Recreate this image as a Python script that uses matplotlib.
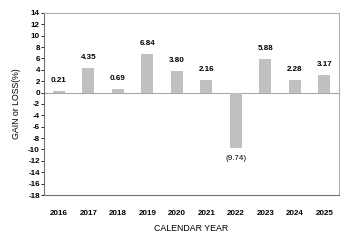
import matplotlib
matplotlib.use("Agg")
from matplotlib import pyplot as plt

years = ["2016", "2017", "2018", "2019", "2020", "2021", "2022", "2023", "2024", "2025"]
returns = [0.21, 4.35, 0.69, 6.84, 3.80, 2.16, -9.74, 5.88, 2.28, 3.17]
y_ticks = list(range(-18, 15, 2))

plt.rcParams['font.family'] = ['Liberation Sans Narrow', 'Liberation Sans', 'DejaVu Sans']

fig = plt.figure(figsize=(3.5, 2.42), dpi=100)
ax = fig.add_axes([44 / 350, 1 - 195 / 242, 295 / 350, 182 / 242])

x = range(len(years))
ax.bar(x, returns, width=0.4, color='#c0c0c0', zorder=2)
ax.axhline(0, color='#a8a8a8', lw=0.8, zorder=1)

for xi, v in zip(x, returns):
    if v >= 0:
        ax.annotate(f"{v:.2f}", (xi, v), xytext=(0, 5), textcoords='offset points',
                    ha='center', va='bottom', fontsize=5.8, fontweight='bold')
    else:
        ax.annotate(f"({abs(v):.2f})", (xi, v), xytext=(0, -5), textcoords='offset points',
                    ha='center', va='top', fontsize=5.8)

ax.set_xlim(-0.5, len(years) - 0.5)
ax.set_ylim(-18, 14)
ax.set_yticks(y_ticks)
ax.set_yticklabels([str(t) for t in y_ticks], fontsize=5.8, fontweight='bold')
ax.set_xticks(list(x))
ax.set_xticklabels(years, fontsize=5.8, fontweight='bold')
ax.tick_params(axis='y', length=2, width=0.6, pad=1)
ax.tick_params(axis='x', length=0, pad=11)

for side in ['left', 'bottom']:
    ax.spines[side].set_color('#707070')
    ax.spines[side].set_linewidth(0.8)
for side in ['top', 'right']:
    ax.spines[side].set_color('#b0b0b0')
    ax.spines[side].set_linewidth(0.8)

ax.set_xlabel("CALENDAR YEAR", fontsize=6.3, labelpad=5)
ax.set_ylabel("GAIN or LOSS(%)", fontsize=6.3, labelpad=5)

fig.savefig("out.png", dpi=100)
